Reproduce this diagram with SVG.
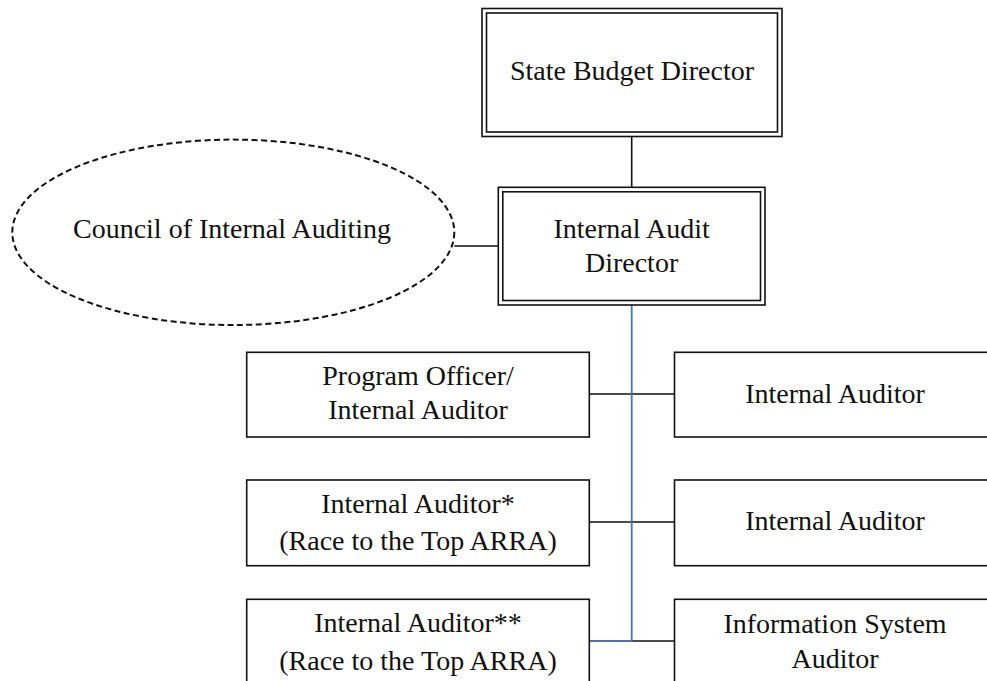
<svg xmlns="http://www.w3.org/2000/svg" width="987" height="681" viewBox="0 0 987 681">
<style>
text{font-family:"Liberation Serif","Times New Roman",serif;font-size:28px;fill:#111;text-anchor:middle}
.box{fill:#fff;stroke:#111;stroke-width:1.6}
.dbl{fill:none;stroke:#111;stroke-width:1.6}
.ln{stroke:#111;stroke-width:1.6;fill:none}
.blue{stroke:#4a72b4;stroke-width:1.8;fill:none}
</style>
<rect width="987" height="681" fill="#fff"/>
<g id="connectors">
<line class="ln" x1="631.7" y1="136.5" x2="631.7" y2="187.3"/>
<line class="ln" x1="454.3" y1="246" x2="498.3" y2="246"/>
<line class="ln" x1="589.3" y1="394" x2="674.5" y2="394"/>
<line class="ln" x1="589.3" y1="522" x2="674.5" y2="522"/>
<line class="ln" x1="631.7" y1="641" x2="674.5" y2="641"/>
<polyline class="blue" points="631.7,305 631.7,641 589.3,641"/>
</g>
<g id="state-budget-director">
<rect class="dbl" x="482" y="8.5" width="300" height="128"/>
<rect class="dbl" x="486.5" y="13" width="291" height="119"/>
<text x="632" y="80">State Budget Director</text>
</g>
<g id="internal-audit-director">
<rect class="dbl" x="498.3" y="187.3" width="266.7" height="117.7"/>
<rect class="dbl" x="502.8" y="191.8" width="257.7" height="108.7"/>
<text x="631.6" y="238">Internal Audit</text>
<text x="631.6" y="272">Director</text>
</g>
<g id="council">
<ellipse cx="233.3" cy="232.3" rx="221" ry="92.7" fill="#fff" stroke="#111" stroke-width="2" stroke-dasharray="6,3.5"/>
<text x="232" y="238">Council of Internal Auditing</text>
</g>
<g id="program-officer">
<rect class="box" x="246.7" y="352.3" width="342.6" height="84.7"/>
<text x="418" y="385">Program Officer/</text>
<text x="418" y="419">Internal Auditor</text>
</g>
<g id="internal-auditor-1">
<rect class="box" x="674.5" y="352.3" width="322" height="84.7"/>
<text x="835" y="403">Internal Auditor</text>
</g>
<g id="internal-auditor-rtt1">
<rect class="box" x="246.7" y="480" width="342.6" height="85.7"/>
<text x="418" y="513">Internal Auditor*</text>
<text x="418" y="550">(Race to the Top ARRA)</text>
</g>
<g id="internal-auditor-2">
<rect class="box" x="674.5" y="480" width="322" height="85.7"/>
<text x="835" y="530">Internal Auditor</text>
</g>
<g id="internal-auditor-rtt2">
<rect class="box" x="246.7" y="599.3" width="342.6" height="100"/>
<text x="418" y="632">Internal Auditor**</text>
<text x="418" y="670">(Race to the Top ARRA)</text>
</g>
<g id="information-system-auditor">
<rect class="box" x="674.5" y="599.3" width="322" height="100"/>
<text x="835" y="633">Information System</text>
<text x="835" y="668">Auditor</text>
</g>
</svg>
